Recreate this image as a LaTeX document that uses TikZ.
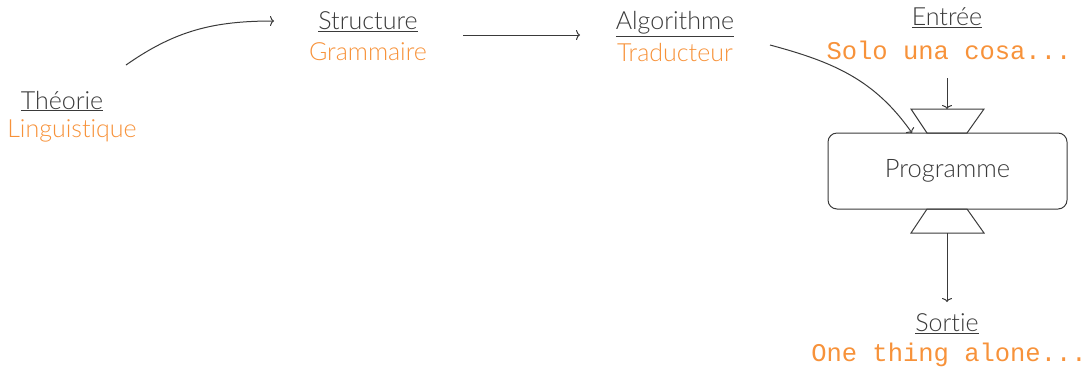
\documentclass[tikz,border=0pt]{standalone}
\usepackage{fontspec}
\setmainfont{Lato}[UprightFont={* Light},Ligatures={NoCommon}]
\setmonofont{Liberation Mono}
\usetikzlibrary{arrows.meta}
\definecolor{ink}{HTML}{3A3A3A}
\definecolor{org}{HTML}{F7923A}
\tikzset{
  title/.style={inner sep=0pt, text=ink, font=\fontsize{25}{28}\selectfont},
  sub/.style={inner sep=0pt, text=org, font=\fontsize{25}{28}\selectfont},
  code/.style={inner sep=0pt, text=org, font=\ttfamily\fontsize{25.5}{28}\selectfont},
  conn/.style={draw=ink, line width=1pt, -{To[length=4pt,width=10pt]}},
  funnel/.style={draw=ink, line width=1pt, line join=miter},
  prog/.style={draw=ink, line width=1pt, rounded corners=9pt, minimum width=239pt, minimum height=76pt, inner sep=0pt, text=ink, font=\fontsize{25.5}{28}\selectfont}
}
\begin{document}
\begin{tikzpicture}[x=1pt,y=-1pt]
\useasboundingbox (0,0) rectangle (1091,368);
% text nodes
\node[title] (theo) at (62,101) {\underline{Théorie}};
\node[sub] (ling) at (72,131) {Linguistique};
\node[title] (struct) at (368,22) {\underline{Structure}};
\node[sub] (gram) at (368,52) {Grammaire};
\node[title] (algo) at (675,24) {\underline{Algorithme}};
\node[sub] (trad) at (675,52) {Traducteur};
\node[title] (entree) at (947,18) {\underline{Entrée}};
\node[code] (solo) at (949,50) {Solo una cosa...};
\node[prog] (progr) at (947.5,171) {Programme};
\node[title] (sortie) at (947,324) {\underline{Sortie}};
\node[code] (one) at (949,355) {One thing alone...};
% funnels
\draw[funnel] (911,109) -- (984,109) -- (967,133) -- (927,133) -- cycle;
\draw[funnel] (927,209) -- (967,209) -- (984,233) -- (911,233) -- cycle;
\coordinate (tin) at (947,109);
\coordinate (tout) at (947,233);
\coordinate (tleft) at (912,133);
% connector end points
\coordinate (a1s) at (126,65);
\coordinate (a1e) at (274,21);
\coordinate (a2s) at (463,35);
\coordinate (a2e) at (580,35);
\coordinate (a3s) at (770,45);
\coordinate (a4s) at (947,78);
\coordinate (a5e) at (947,302);
% connectors
\draw[conn] (a1s) to[out=35,in=180] (a1e);
\draw[conn] (a2s) -- (a2e);
\draw[conn] (a3s) to[out=-15,in=125] (tleft);
\draw[conn] (a4s) -- (tin);
\draw[conn] (tout) -- (a5e);
\end{tikzpicture}
\end{document}
